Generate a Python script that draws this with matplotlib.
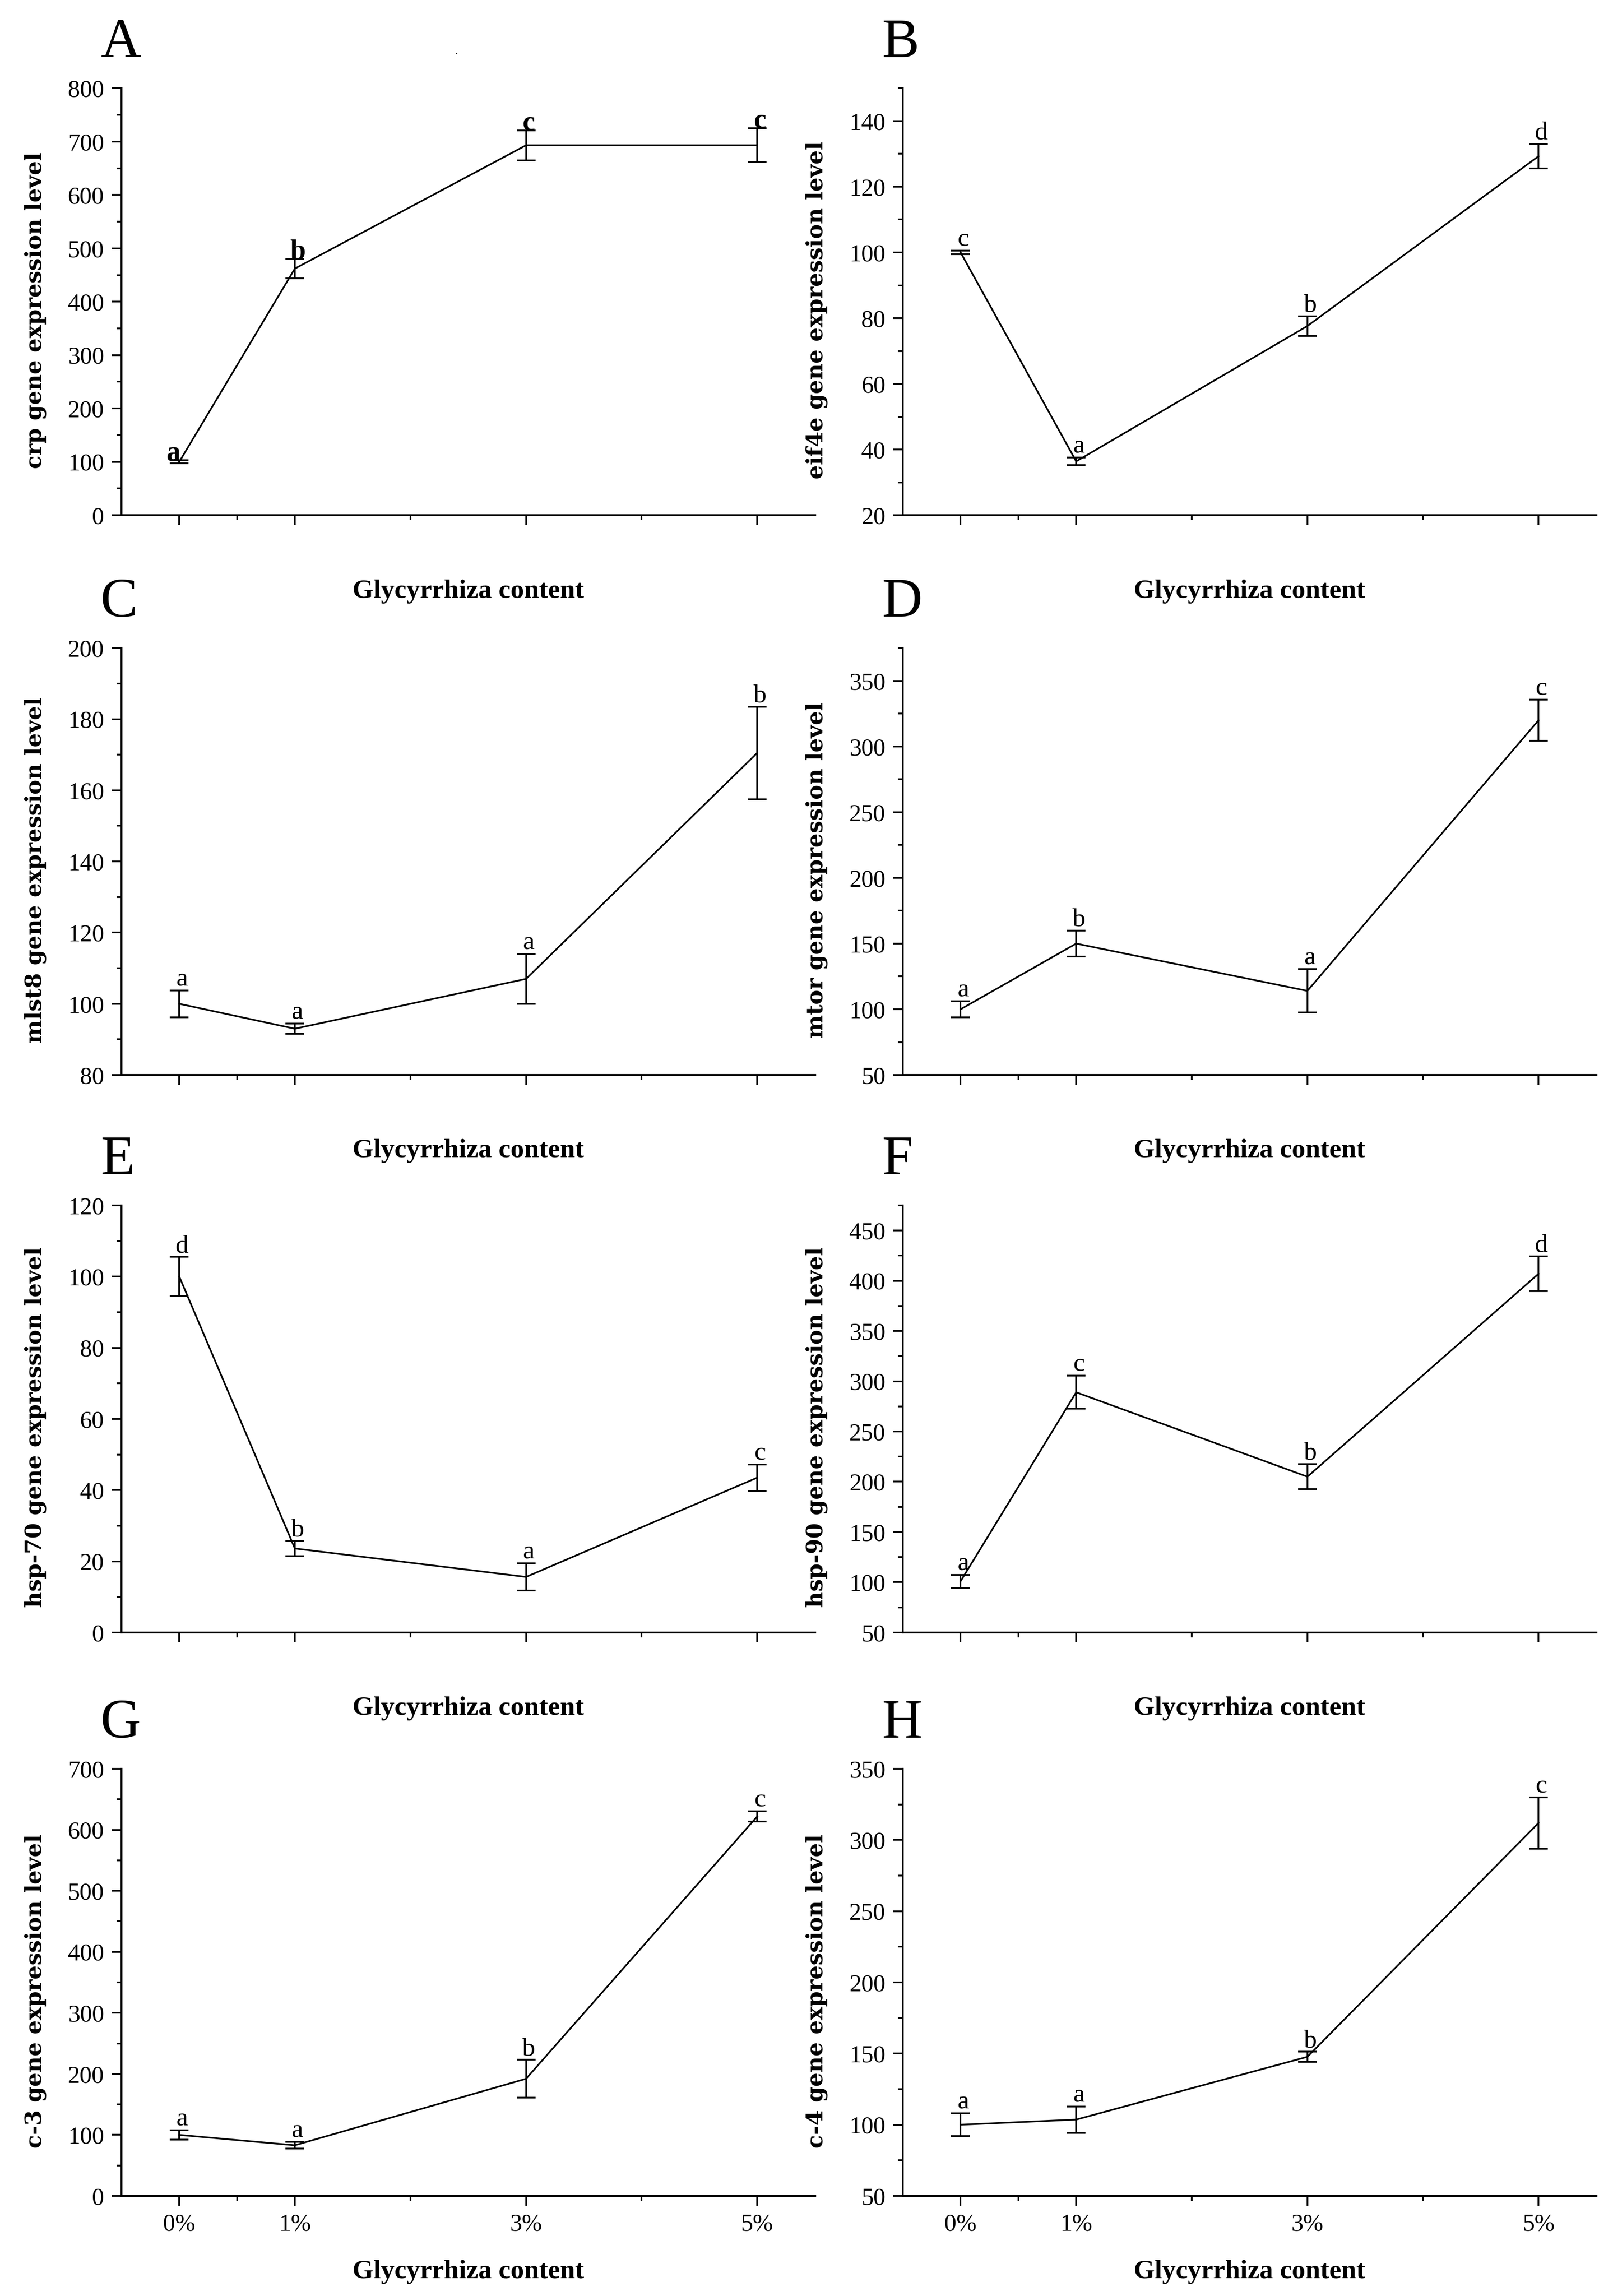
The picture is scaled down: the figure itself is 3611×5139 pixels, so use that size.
import numpy as np
import matplotlib
matplotlib.use('Agg')
from matplotlib import pyplot as plt
from matplotlib.ticker import MultipleLocator, FixedLocator

plt.rcParams['font.family'] = ['Liberation Serif', 'DejaVu Serif']

#---------------- data ----------------
conc = [0, 1, 3, 5]
conc_labels = ['0%', '1%', '3%', '5%']

crp = [100, 462, 693, 693]
crp_err = [3, 18, 28, 32]
crp_sig = ['a', 'b', 'c', 'c']

eif4e = [100, 36.4, 77.6, 129.3]
eif4e_err = [0.6, 1.2, 3.0, 3.8]
eif4e_sig = ['c', 'a', 'b', 'd']

mlst8 = [100, 93, 107, 170.5]
mlst8_err = [3.8, 1.5, 7, 13]
mlst8_sig = ['a', 'a', 'a', 'b']

mtor = [100, 150, 114, 320]
mtor_err = [6, 10, 16.5, 15.5]
mtor_sig = ['a', 'b', 'a', 'c']

hsp70 = [100, 23.6, 15.6, 43.5]
hsp70_err = [5.5, 2.1, 3.8, 3.7]
hsp70_sig = ['d', 'b', 'a', 'c']

hsp90 = [101, 289, 205, 407]
hsp90_err = [6.5, 16.5, 12.5, 17.5]
hsp90_sig = ['a', 'c', 'b', 'd']

c3 = [100, 83, 192, 622]
c3_err = [7.5, 5.5, 31, 8.7]
c3_sig = ['a', 'a', 'b', 'c']

c4 = [100, 103.6, 147.7, 312]
c4_err = [8, 9.3, 3.5, 18]
c4_sig = ['a', 'a', 'b', 'c']

# letter, gene, mean, err, significance, y range, y step
panels = [
    ('A', 'crp', crp, crp_err, crp_sig, (0, 800), 100),
    ('B', 'eif4e', eif4e, eif4e_err, eif4e_sig, (20, 150), 20),
    ('C', 'mlst8', mlst8, mlst8_err, mlst8_sig, (80, 200), 20),
    ('D', 'mtor', mtor, mtor_err, mtor_sig, (50, 375), 50),
    ('E', 'hsp-70', hsp70, hsp70_err, hsp70_sig, (0, 120), 20),
    ('F', 'hsp-90', hsp90, hsp90_err, hsp90_sig, (50, 475), 50),
    ('G', 'c-3', c3, c3_err, c3_sig, (0, 700), 100),
    ('H', 'c-4', c4, c4_err, c4_sig, (50, 350), 50),
]

fig = plt.figure(figsize=(3611 / 300, 5139 / 300), dpi=300)

lefts = [0.0753, 0.5597]
bottoms = [0.7756, 0.5318, 0.2890, 0.0436]
w, h = 0.430, 0.186

for i, (letter, gene, mean, err, sig, ylim, step) in enumerate(panels):
    r, c = divmod(i, 2)
    ax = fig.add_axes([lefts[c], bottoms[r], w, h])
    ax.errorbar(conc, mean, yerr=err, color='black', lw=0.9,
                elinewidth=0.9, capsize=5, capthick=0.9)

    for s in ['top', 'right']:
        ax.spines[s].set_visible(False)
    for s in ['left', 'bottom']:
        ax.spines[s].set_linewidth(1.0)

    ax.set_xlim(-0.5, 5.5)
    ax.set_ylim(*ylim)
    ax.xaxis.set_major_locator(FixedLocator(conc))
    ax.xaxis.set_minor_locator(FixedLocator([0.5, 2, 4]))
    ax.yaxis.set_major_locator(MultipleLocator(step))
    ax.yaxis.set_minor_locator(MultipleLocator(step / 2))
    ax.tick_params(which='major', direction='out', length=5.3, width=0.9,
                   labelsize=13, pad=4)
    ax.tick_params(which='minor', direction='out', length=2.6, width=0.9)

    if r == 3:
        ax.set_xticklabels(conc_labels)
    else:
        ax.tick_params(labelbottom=False)

    ax.set_xlabel('Glycyrrhiza content', fontweight='bold', fontsize=14.5)
    ax.xaxis.set_label_coords(0.5, -0.150)
    ax.set_ylabel(gene + ' gene expression level', family='DejaVu Serif',
                  fontweight='bold', fontsize=12)
    ax.yaxis.set_label_coords(-0.108, 0.48)

    ax.text(-0.03, 1.073, letter, transform=ax.transAxes, fontsize=30,
            ha='left', va='baseline')

    # significance letters
    bold = 'bold' if letter == 'A' else 'normal'
    gap = 0 if letter == 'A' else 2.5
    size = 15 if letter == 'A' else 14
    for k, (x, m, e, s) in enumerate(zip(conc, mean, err, sig)):
        dx = -3 if (letter == 'A' and k == 0) else 1.5
        ax.annotate(s, (x, m + e), xytext=(dx, gap), textcoords='offset points',
                    ha='center', va='baseline', fontsize=size, fontweight=bold)

# small stray dot at the top of the page
fig.text(0.282, 0.9765, '.', fontsize=6)

plt.savefig('out.png', dpi=300)
